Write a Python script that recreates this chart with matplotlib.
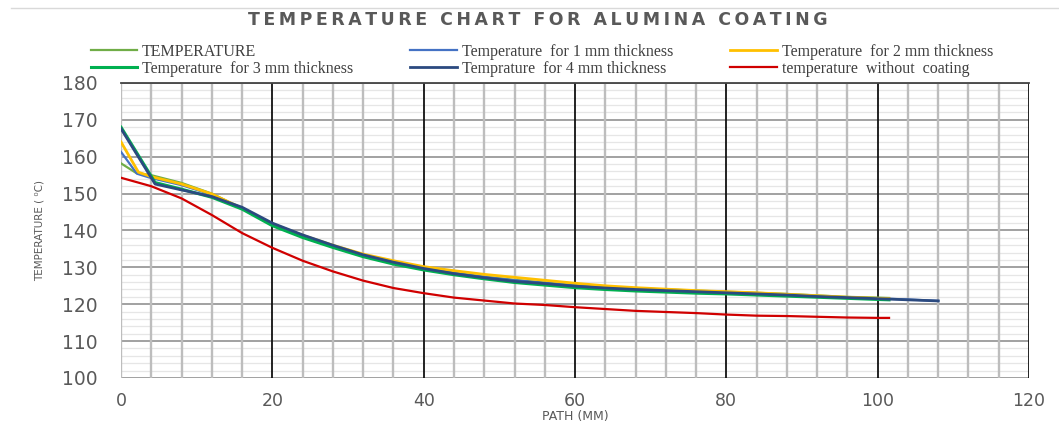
import matplotlib
matplotlib.use("Agg")
import matplotlib.pyplot as plt
from matplotlib.lines import Line2D

# ---- data (path in mm, temperature in degC)
x_temp = [0, 2, 4, 8, 12, 16, 20, 24, 28, 32, 36, 40, 44, 48, 52, 56, 60,
          64, 68, 72, 76, 80, 84, 88, 92, 96, 100, 101.5]
temp = [158.2, 155.6, 155.0, 152.9, 150.0, 146.0, 141.6, 138.3, 135.6, 133.2,
        131.3, 129.7, 128.5, 127.5, 126.6, 125.9, 125.2, 124.7, 124.3, 124.0,
        123.7, 123.4, 123.1, 122.8, 122.4, 122.0, 121.8, 121.7]

x_1mm = [0, 2.1, 4, 8, 12, 16, 20, 24, 28, 32, 36, 40, 44, 48, 52, 56, 60,
         64, 68, 72, 76, 80, 84, 88, 92, 96, 100, 104, 108]
t_1mm = [161.3, 155.4, 154.2, 152.3, 149.7, 146.0, 141.8, 138.6, 135.9, 133.4,
         131.4, 129.8, 128.5, 127.4, 126.5, 125.8, 125.1, 124.6, 124.1, 123.8,
         123.5, 123.2, 122.9, 122.6, 122.2, 121.8, 121.6, 121.3, 120.9]

x_2mm = [0, 2.3, 4, 8, 12, 16, 20, 24, 28, 32, 36, 40, 44, 48, 52, 56, 60,
         64, 68, 72, 76, 80, 84, 88, 92, 96, 100, 101.5]
t_2mm = [164.0, 155.8, 154.6, 152.6, 149.9, 146.0, 141.8, 138.7, 136.0, 133.6,
         131.8, 130.2, 129.1, 128.1, 127.3, 126.5, 125.7, 125.0, 124.5, 124.1,
         123.7, 123.4, 123.1, 122.7, 122.3, 121.9, 121.6, 121.5]

x_3mm = [0, 4.5, 8, 12, 16, 20, 24, 28, 32, 36, 40, 44, 48, 52, 56, 60,
         64, 68, 72, 76, 80, 84, 88, 92, 96, 100, 101.5]
t_3mm = [168.0, 153.0, 151.2, 149.0, 145.8, 141.3, 138.1, 135.4, 132.9, 130.9,
         129.3, 128.0, 126.9, 125.9, 125.2, 124.5, 124.0, 123.6, 123.3, 123.0,
         122.8, 122.5, 122.2, 121.9, 121.6, 121.3, 121.2]

x_4mm = [0, 4.5, 8, 12, 16, 20, 24, 28, 32, 36, 40, 44, 48, 52, 56, 60,
         64, 68, 72, 76, 80, 84, 88, 92, 96, 100, 104, 108]
t_4mm = [167.6, 152.6, 151.0, 149.2, 146.3, 142.0, 138.8, 136.0, 133.4, 131.4,
         129.7, 128.3, 127.2, 126.2, 125.6, 124.9, 124.4, 124.0, 123.7, 123.4,
         123.1, 122.8, 122.5, 122.1, 121.8, 121.5, 121.2, 120.9]

x_bare = [0, 4, 8, 12, 16, 20, 24, 28, 32, 36, 40, 44, 48, 52, 56, 60,
          64, 68, 72, 76, 80, 84, 88, 92, 96, 100, 101.5]
t_bare = [154.3, 152.0, 148.7, 144.2, 139.3, 135.3, 131.8, 128.9, 126.4, 124.4,
          123.0, 121.8, 121.0, 120.2, 119.8, 119.2, 118.7, 118.2, 117.9, 117.6,
          117.2, 116.9, 116.8, 116.6, 116.4, 116.3, 116.3]

series = [
    ("TEMPERATURE", x_temp, temp, "#70AD47", 1.6),
    ("Temperature  for 1 mm thickness", x_1mm, t_1mm, "#4472C4", 1.6),
    ("Temperature  for 2 mm thickness", x_2mm, t_2mm, "#FFC000", 2.0),
    ("Temperature  for 3 mm thickness", x_3mm, t_3mm, "#00B050", 2.2),
    ("Temprature  for 4 mm thickness", x_4mm, t_4mm, "#2B4A80", 2.0),
    ("temperature  without  coating", x_bare, t_bare, "#D00000", 1.6),
]

fig = plt.figure(figsize=(10.59, 4.23), dpi=100)
ax = fig.add_axes([0.1143, 0.1064, 0.8574, 0.6974])

ax.set_xlim(0, 120)
ax.set_ylim(100, 180)
ax.set_xticks(range(0, 121, 20))
ax.set_xticks(range(0, 121, 4), minor=True)
ax.set_yticks(range(100, 181, 10))
ax.set_yticks(range(100, 181, 2), minor=True)

# horizontal grid: light minor rows, gray major rows
ax.grid(which="minor", axis="y", color="#E6E6E6", linewidth=0.9)
ax.grid(which="major", axis="y", color="#9A9A9A", linewidth=1.3)
ax.set_axisbelow(True)

# vertical lines drawn above the row grid: gray every 4, black every 20
xt = ax.get_xaxis_transform()
minor_x = [v for v in ax.get_xticks(minor=True) if v % 20 != 0] + [0]
major_x = [v for v in ax.get_xticks() if v != 0]
ax.vlines(minor_x, 0, 1, transform=xt, color="#BDBDBD", linewidth=1.7, zorder=1.5)
ax.vlines(major_x, 0, 1, transform=xt, color="#111111", linewidth=1.3, zorder=1.6)

for s in ["left", "right", "bottom"]:
    ax.spines[s].set_visible(False)
ax.spines["top"].set_color("#444444")
ax.spines["top"].set_linewidth(1.3)

ax.tick_params(which="both", length=0)
ax.tick_params(axis="y", pad=17, labelsize=13.5, labelcolor="#595959")
ax.tick_params(axis="x", pad=10, labelsize=12.5, labelcolor="#595959")

handles = {}
for label, xs, ys, col, lw in series:
    (ln,) = ax.plot(xs, ys, color=col, linewidth=lw, label=label, zorder=3)
    handles[label] = ln

ax.set_xlabel("PATH (MM)", fontsize=9, color="#595959", labelpad=0)
ax.set_ylabel("TEMPERATURE ( \u2070C)", fontsize=7.5, color="#595959", labelpad=12)

# title with extra letter spacing
title = "TEMPERATURE CHART FOR ALUMINA COATING"
spaced = "\u2009".join(title)
fig.text(0.508, 0.952, spaced, ha="center", va="center", fontsize=12.5,
         fontweight="bold", color="#595959")

# faint chart border line at the top
fig.add_artist(Line2D([0.01, 1.0], [0.98, 0.98], color="#D9D9D9", linewidth=1.0))

# legend: two rows, three columns (column-wise fill order)
order = [0, 3, 1, 4, 2, 5]
leg_h = [handles[series[i][0]] for i in order]
leg_l = [series[i][0] for i in order]
fig.legend(leg_h, leg_l, ncol=3, frameon=False, loc="upper left",
           bbox_to_anchor=(0.072, 0.93), handlelength=2.9, handletextpad=0.3,
           columnspacing=3.6, labelspacing=0.05,
           prop={"family": "Liberation Serif", "size": 11.5},
           labelcolor="#404040")

fig.savefig("out.png", dpi=100)
